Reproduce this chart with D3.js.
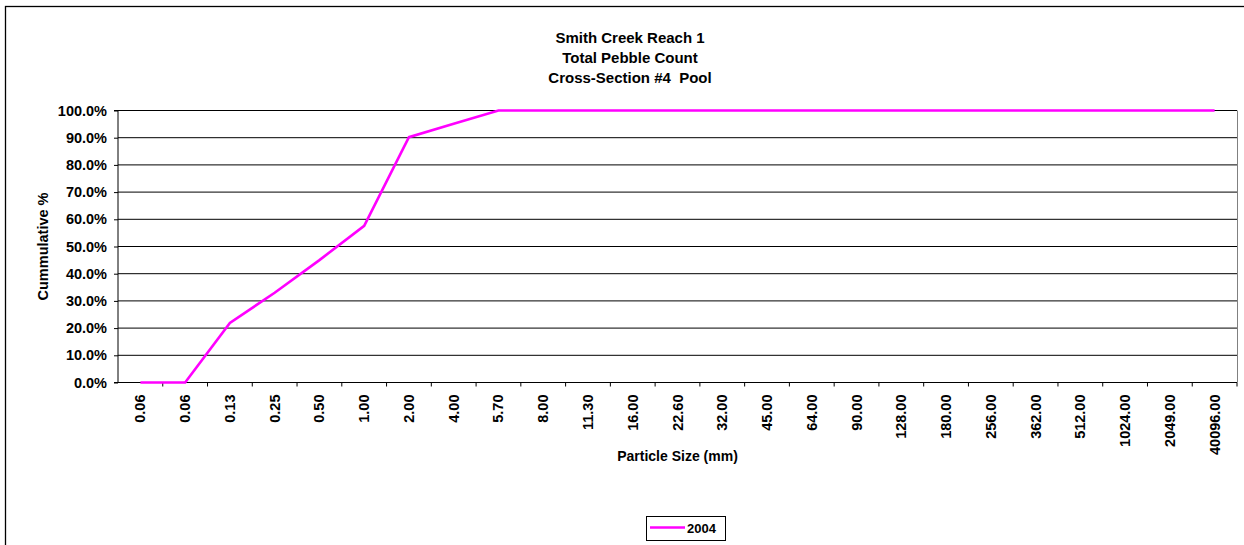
<!DOCTYPE html>
<html>
<head>
<meta charset="utf-8">
<script src="https://cdn.jsdelivr.net/npm/d3@7"></script>
<style>
  body { margin: 0; background: #fff; }
  svg { display: block; font-family: "Liberation Sans", Arial, sans-serif; }
  .tick text { font-weight: bold; font-size: 14.5px; fill: #000; }
</style>
</head>
<body>
<div id="chart"></div>
<script>
// particle size classes (mm), as printed on the x axis
const sizes = ['0.06', '0.06', '0.13', '0.25', '0.50', '1.00', '2.00', '4.00', '5.70', '8.00',
  '11.30', '16.00', '22.60', '32.00', '45.00', '64.00', '90.00', '128.00', '180.00',
  '256.00', '362.00', '512.00', '1024.00', '2049.00', '40096.00']
// cumulative percent finer, 2004 survey
const cum2004 = [0, 0, 21.9, 33.0, 45.0, 57.6, 90.2, 95.1, 100, 100,
  100, 100, 100, 100, 100, 100, 100, 100, 100,
  100, 100, 100, 100, 100, 100]
const yTicks = [0, 10, 20, 30, 40, 50, 60, 70, 80, 90, 100]
const titleLines = ['Smith Creek Reach 1', 'Total Pebble Count', 'Cross-Section #4  Pool']

const W = 1244, H = 545
const plot = {left: 118, top: 110.5, right: 1237, bottom: 382.5}

const svg = d3.select('#chart').append('svg')
  .attr('width', W)
  .attr('height', H)

// outer chart frame (runs off the right and bottom edges)
svg.append('rect')
  .attr('x', 5.5).attr('y', 6.5)
  .attr('width', W + 20).attr('height', H + 20)
  .attr('fill', '#fff')
  .attr('stroke', '#000')
  .attr('stroke-width', 1.3)

const x = d3.scaleBand()
  .domain(d3.range(sizes.length))
  .range([plot.left, plot.right])

const y = d3.scaleLinear()
  .domain([0, 100])
  .range([plot.bottom, plot.top])

// gridlines
svg.append('g')
  .selectAll('line')
  .data(yTicks.slice(1))
  .enter()
  .append('line')
  .attr('x1', plot.left).attr('x2', plot.right)
  .attr('y1', d => y(d)).attr('y2', d => y(d))
  .attr('stroke', '#000')
  .attr('stroke-width', 1)

// plot area border on the right
svg.append('line')
  .attr('x1', plot.right + 0.5).attr('x2', plot.right + 0.5)
  .attr('y1', plot.top).attr('y2', plot.bottom)
  .attr('stroke', '#808080')

// y axis
const yAxis = svg.append('g')
  .attr('transform', `translate(${plot.left},0)`)
  .call(d3.axisLeft(y).tickValues(yTicks).tickSize(4).tickPadding(7)
    .tickFormat(d => d.toFixed(1) + '%'))
yAxis.select('.domain').attr('stroke', '#000').attr('d', `M-4,${plot.top}H0V${plot.bottom}H-4`)

// x axis: ticks on category boundaries
const xAxis = svg.append('g')
  .attr('transform', `translate(0,${plot.bottom})`)
xAxis.append('line')
  .attr('x1', plot.left).attr('x2', plot.right)
  .attr('stroke', '#000')
xAxis.selectAll('.xt')
  .data(d3.range(1, sizes.length + 1))
  .enter()
  .append('line')
  .attr('class', 'xt')
  .attr('x1', i => i === sizes.length ? plot.right : x(i))
  .attr('x2', i => i === sizes.length ? plot.right : x(i))
  .attr('y1', 0).attr('y2', 4)
  .attr('stroke', '#000')
xAxis.selectAll('.xl')
  .data(sizes)
  .enter()
  .append('text')
  .attr('class', 'xl')
  .attr('transform', (d, i) => `translate(${x(i) + x.bandwidth() / 2 + 5},${12}) rotate(-90)`)
  .attr('text-anchor', 'end')
  .style('font-weight', 'bold')
  .style('font-size', '14.5px')
  .text(d => d)

// series line
const line = d3.line()
  .x((d, i) => x(i) + x.bandwidth() / 2)
  .y(d => y(d))

svg.append('path')
  .datum(cum2004)
  .attr('d', line)
  .attr('fill', 'none')
  .attr('stroke', '#ff00ff')
  .attr('stroke-width', 2.6)
  .attr('stroke-linejoin', 'miter')

// title
svg.append('text')
  .attr('text-anchor', 'middle')
  .style('font-weight', 'bold')
  .style('font-size', '15px')
  .selectAll('tspan')
  .data(titleLines)
  .enter()
  .append('tspan')
  .attr('x', 630)
  .attr('y', (d, i) => 43 + i * 20)
  .attr('xml:space', 'preserve')
  .style('white-space', 'pre')
  .text(d => d)

// axis titles
svg.append('text')
  .attr('transform', `translate(47.5,${(plot.top + plot.bottom) / 2}) rotate(-90)`)
  .attr('text-anchor', 'middle')
  .style('font-weight', 'bold')
  .style('font-size', '14.5px')
  .text('Cummulative %')

svg.append('text')
  .attr('x', (plot.left + plot.right) / 2)
  .attr('y', 461)
  .attr('text-anchor', 'middle')
  .style('font-weight', 'bold')
  .style('font-size', '14px')
  .text('Particle Size (mm)')

// legend
const legend = svg.append('g').attr('transform', 'translate(646,516)')
legend.append('rect')
  .attr('x', 0.5).attr('y', 0.5)
  .attr('width', 79).attr('height', 24)
  .attr('fill', '#fff')
  .attr('stroke', '#000')
legend.append('line')
  .attr('x1', 4).attr('x2', 39)
  .attr('y1', 11.5).attr('y2', 11.5)
  .attr('stroke', '#ff00ff')
  .attr('stroke-width', 2.6)
legend.append('text')
  .attr('x', 41).attr('y', 16.5)
  .style('font-weight', 'bold')
  .style('font-size', '13px')
  .text('2004')
</script>
</body>
</html>
